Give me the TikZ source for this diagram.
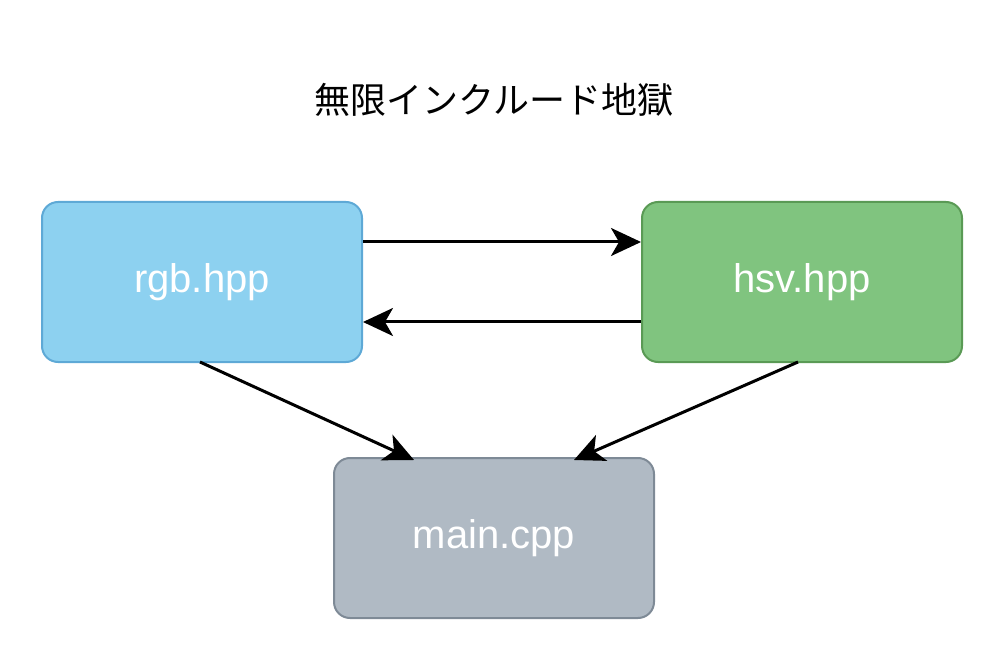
\documentclass[tikz,border=0pt]{standalone}
\usepackage{fontspec}
\setmainfont{Liberation Sans}
\newfontfamily\cjk{Noto Sans CJK JP}
\usetikzlibrary{arrows.meta}
\definecolor{rgbf}{HTML}{8DD1F0}\definecolor{rgbd}{HTML}{5EA9D6}
\definecolor{hsvf}{HTML}{80C47F}\definecolor{hsvd}{HTML}{5A9A55}
\definecolor{mnf}{HTML}{B0BAC4}\definecolor{mnd}{HTML}{7E8A96}
\begin{document}
\begin{tikzpicture}[x=1pt,y=-1pt,
 box/.style={draw,line width=2pt,rounded corners=16pt,minimum width=320pt,minimum height=160pt,inner sep=0pt,text=white,font=\fontsize{40}{48}\selectfont},
 arr/.style={line width=3pt,-{Stealth[length=30pt,width=28pt,inset=8pt]}}]
\useasboundingbox (0,0) rectangle (1004,660);
\node[font=\cjk\fontsize{36}{42}\selectfont] (t) at (494,100) {無限インクルード地獄};
\node[box,fill=rgbf,draw=rgbd] (r) at (202,282) {rgb.hpp};
\node[box,fill=hsvf,draw=hsvd] (h) at (802,282) {hsv.hpp};
\node[box,fill=mnf,draw=mnd] (m) at (494,538) {main.cpp};
\draw[arr] (r.east|-0,242) -- (h.west|-0,242);
\draw[arr] (h.west|-0,322) -- (r.east|-0,322);
\draw[arr] (200,362) -- (414,460);
\draw[arr] (798,362) -- (574,460);
\end{tikzpicture}
\end{document}
